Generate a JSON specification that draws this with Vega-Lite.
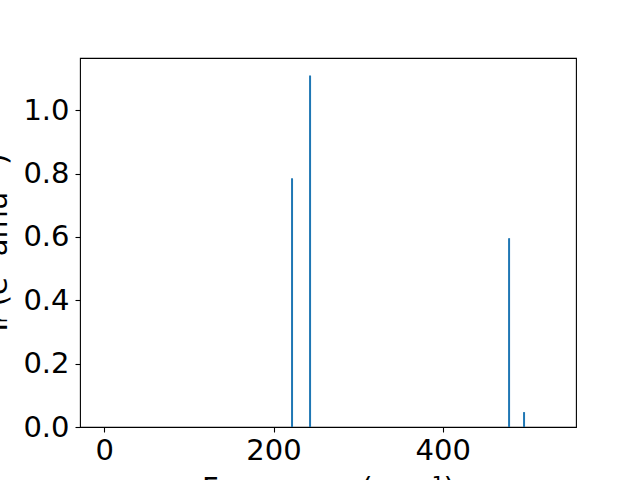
{
  "$schema": "https://vega.github.io/schema/vega-lite/v6.json",
  "autosize": {"type": "none"},
  "padding": {"left": 80, "top": 58, "right": 64, "bottom": 53},
  "width": 496,
  "height": 369,
  "background": "white",
  "config": {
    "view": {"stroke": "black", "strokeWidth": 1.1},
    "axis": {
      "grid": false,
      "domain": false,
      "tickColor": "black",
      "tickSize": 5,
      "tickWidth": 1.1,
      "labelFont": "DejaVu Sans",
      "labelFontSize": 29,
      "labelColor": "black",
      "titleFont": "DejaVu Sans",
      "titleFontSize": 29,
      "titleFontWeight": "normal",
      "titleColor": "black"
    }
  },
  "data": {
    "values": [
      {"freq": 221.9, "intensity": 0.785},
      {"freq": 243.2, "intensity": 1.109},
      {"freq": 478.4, "intensity": 0.596},
      {"freq": 496.1, "intensity": 0.047}
    ]
  },
  "mark": {"type": "rule", "color": "#1f77b4", "strokeWidth": 2},
  "encoding": {
    "x": {
      "field": "freq",
      "type": "quantitative",
      "scale": {"domain": [-28.7, 557.5], "nice": false, "zero": false},
      "axis": {
        "values": [0, 200, 400],
        "format": "d",
        "labelPadding": 4,
        "title": "Frequency (cm⁻¹)",
        "titleX": 248,
        "titleY": 70,
        "titleBaseline": "alphabetic",
        "titleAnchor": null,
        "titleAlign": "center"
      }
    },
    "y": {
      "field": "intensity",
      "type": "quantitative",
      "scale": {"domain": [0, 1.1646], "nice": false, "zero": false},
      "axis": {
        "values": [0, 0.2, 0.4, 0.6, 0.8, 1.0],
        "format": ".1f",
        "labelPadding": 6,
        "title": "Iᵣ (e² amu⁻¹)",
        "titleX": -83,
        "titleY": 184,
        "titleAngle": -90,
        "titleAlign": "center",
        "titleBaseline": "middle",
        "titleAnchor": null
      }
    },
    "y2": {"datum": 0}
  }
}
